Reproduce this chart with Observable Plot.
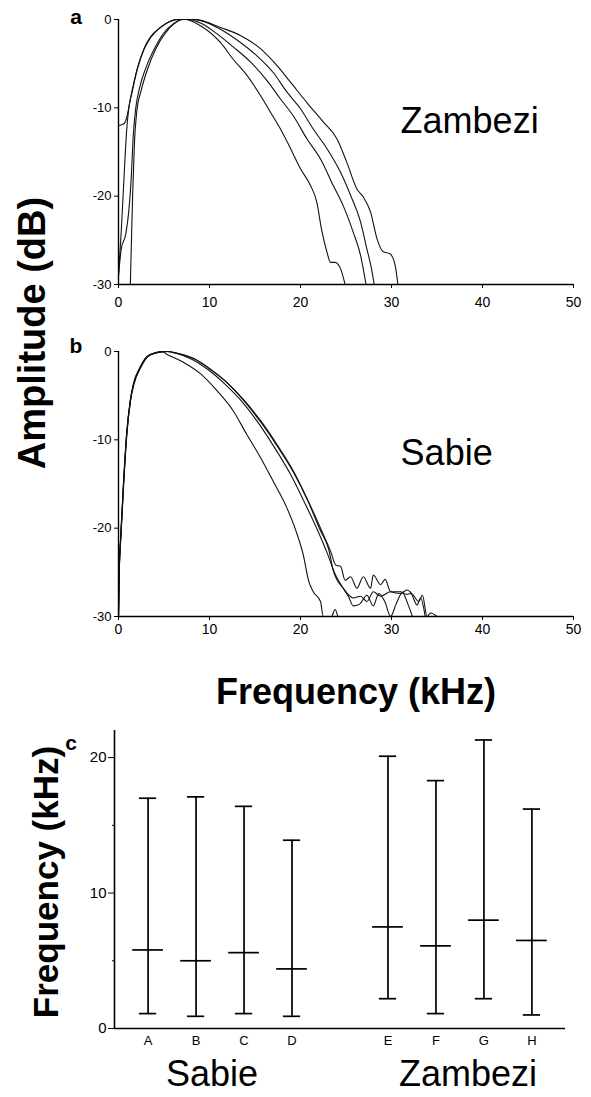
<!DOCTYPE html>
<html><head><meta charset="utf-8">
<script src="https://cdn.jsdelivr.net/npm/d3@7"></script>
<script src="https://cdn.jsdelivr.net/npm/@observablehq/plot@0.6"></script>
<style>
body{margin:0;background:#fff;}
#root{position:relative;width:591px;height:1097px;overflow:hidden;font-family:"Liberation Sans",Arial,sans-serif;color:#000;}
.panel{position:absolute;left:0;}
.t{position:absolute;white-space:nowrap;line-height:1;}
.b{font-weight:bold;}
</style></head><body><div id="root"></div>
<script>
// ---- Panel a: Zambezi spectra, [frequency kHz, amplitude dB]
const zambezi1 = [[0,-12],[0.6,-11.8],[0.95,-10.9],[1.3,-9],[1.7,-7.1],[2.05,-5.6],[2.8,-3.3],[3.5,-2],[4.6,-0.9],[5.7,-0.2],[6.4,0],[8,0],[9,-0.1],[11.2,-0.9],[13.4,-1.8],[15.6,-3.3],[17.4,-5.2],[18.9,-7.1],[20.7,-9.4],[22.5,-11.6],[24,-13.5],[25.1,-16.2],[26.2,-19.2],[26.9,-20.1],[27.7,-21.8],[28.4,-24.8],[29.1,-26.3],[29.8,-26.5],[30.4,-27.8],[30.7,-30]];
const zambezi2 = [[0,-29],[0.3,-24],[0.6,-18],[0.9,-12.5],[1.1,-10.3],[1.5,-8.2],[2.05,-5.7],[2.8,-3.4],[3.5,-2.1],[4.6,-0.9],[5.7,-0.2],[6.5,0],[8.5,0],[9,-0.1],[11.2,-1.1],[13.4,-2.6],[15.2,-4.1],[17,-6],[18.5,-8.2],[20,-10.1],[21.4,-12.4],[22.9,-14.6],[24.4,-17.3],[25.5,-19.9],[26.6,-22.9],[27.3,-26],[27.8,-28.2],[28.1,-30]];
const zambezi3 = [[0,-29],[0.3,-26],[0.8,-24.3],[1.1,-22],[1.4,-18],[1.6,-13.5],[1.9,-10],[2.3,-7.8],[3,-5.5],[4,-3.2],[5,-1.5],[6,-0.5],[7,0],[7.5,0],[9,-0.4],[10.8,-1.6],[12.6,-3.1],[14.5,-4.8],[16.3,-6.9],[17.8,-9],[19.2,-10.9],[20.7,-13.5],[22.2,-15.8],[23.6,-18.8],[24.7,-21.1],[25.8,-24.1],[26.6,-26.7],[27.2,-30]];
const zambezi4 = [[1.3,-30],[1.4,-26],[1.55,-20],[1.75,-14],[2,-10.5],[2.5,-8],[3.2,-5.6],[4.1,-3.3],[5.1,-1.6],[6.1,-0.5],[7.1,0],[7.3,0],[9,-0.7],[11.2,-2.6],[12.6,-4.5],[14.1,-6.3],[15.6,-8.6],[16.7,-10.5],[17.8,-12.4],[18.9,-14.6],[20,-16.9],[21.1,-18.8],[21.8,-20.7],[22.3,-23.7],[22.9,-26.3],[23.3,-27.5],[23.8,-27.5],[24.4,-28.2],[24.9,-30]];

// ---- Panel b: Sabie spectra
const sabie1 = [[0,-30],[0.07,-25.3],[0.26,-20.7],[0.55,-15],[0.9,-9.4],[1.3,-5.6],[1.65,-3.7],[2.4,-1.8],[3.1,-0.6],[3.85,-0.2],[4.8,0],[5.3,-0.3],[7.1,-1.2],[9,-2.5],[10.8,-4.4],[12.6,-6.7],[14.1,-9.4],[15.6,-12],[17,-14.7],[18.5,-17.7],[19.5,-20.3],[20.3,-23],[20.9,-26],[21.4,-27.2],[22.2,-28.3],[22.5,-30],[23.4,-30],[23.8,-29.2],[24.1,-30]];
const sabie2 = [[0,-30],[0.08,-25.3],[0.28,-20.7],[0.57,-15],[0.92,-9.4],[1.32,-5.6],[1.7,-3.7],[2.45,-1.8],[3.2,-0.6],[4,-0.2],[5.2,0],[6.4,-0.2],[8.2,-0.8],[10.1,-2],[11.9,-3.5],[13.7,-5.4],[15.6,-7.8],[17.4,-10.5],[19.2,-13.5],[20.7,-16.6],[22.2,-20],[23.3,-22.6],[23.9,-24.2],[24.4,-24.3],[24.9,-25.9],[25.5,-25.5],[26.2,-26.8],[26.9,-25.5],[27.7,-26.8],[28,-25.3],[28.8,-26.4],[29.3,-25.8],[29.9,-27.2],[31,-27.4],[31.7,-27],[32.4,-27.6],[33,-28.3],[33.4,-27.6],[33.9,-30],[34.3,-29.6],[35,-30]];
const sabie3 = [[0,-30],[0.06,-25.3],[0.25,-20.7],[0.54,-15],[0.88,-9.4],[1.28,-5.6],[1.63,-3.7],[2.35,-1.8],[3.1,-0.6],[3.9,-0.2],[5.4,0],[6.5,-0.2],[8.3,-0.8],[10.2,-2.1],[12,-3.6],[13.8,-5.6],[15.7,-8.1],[17.5,-10.8],[19.3,-13.8],[20.8,-16.9],[22.2,-20.3],[23.1,-22.4],[23.6,-24.8],[24.7,-26.8],[25.8,-27.9],[26.6,-27.7],[27.3,-28.3],[28,-27.2],[28.8,-27.7],[29.9,-27.2],[31,-27.2],[31.7,-27.5],[32.1,-27.4],[32.8,-28.7],[33.2,-27.9],[33.7,-30]];
const sabie4 = [[0,-30],[0.07,-25.3],[0.27,-20.7],[0.56,-15],[0.9,-9.4],[1.3,-5.6],[1.67,-3.7],[2.4,-1.8],[3.15,-0.6],[3.95,-0.2],[5.3,0],[6.3,-0.2],[8.1,-0.9],[9.9,-2.1],[11.7,-3.7],[13.5,-5.6],[15.3,-8],[17.1,-10.8],[18.9,-13.9],[20.4,-17],[21.9,-20.3],[23,-23],[23.8,-25.2],[24.5,-26.5],[25.3,-27.8],[25.8,-28.8],[26.5,-28.6],[27.3,-27.6],[28,-28.8],[28.6,-27.4],[29.3,-28.4],[29.9,-30],[30.5,-28.6],[31.2,-27.3],[31.8,-28.6],[32.3,-30]];

const freqTicks = [0, 10, 20, 30, 40, 50];
const dbTicks = [-30, -20, -10, 0];

// ---- Panel c: frequency ranges
const categories = ["A", "B", "C", "D", "E", "F", "G", "H"];
const rivers = ["Sabie", "Sabie", "Sabie", "Sabie", "Zambezi", "Zambezi", "Zambezi", "Zambezi"];
const highs = [17.0, 17.1, 16.4, 13.9, 20.1, 18.3, 21.3, 16.2];
const medians = [5.8, 5.0, 5.6, 4.4, 7.5, 6.1, 8.0, 6.5];
const lows = [1.1, 0.9, 1.1, 0.9, 2.2, 1.1, 2.2, 1.0];
const khzTicks = [0, 10, 20];
const khzMinor = [5, 15];

const FONT = "Liberation Sans, Arial, Helvetica, sans-serif";
const root = document.getElementById("root");

function rows(curves) {
  return curves.flatMap((c, i) => c.map(([f, db]) => ({f, db, id: i})));
}

function spectrum(curves, label, pad) {
  return Plot.plot({
    width: 591, height: 310,
    marginLeft: 118, marginRight: 18, marginTop: 19, marginBottom: 26,
    style: {fontFamily: FONT, background: "transparent", color: "#000", overflow: "visible"},
    x: {domain: [0, 50]},
    y: {domain: [-30, 0]},
    marks: [
      Plot.line(rows(curves), {x: "f", y: "db", z: "id", stroke: "#111", strokeWidth: 1.1, curve: "monotone-x", clip: true}),
      Plot.ruleX([0], {stroke: "#000", strokeWidth: 1.4}),
      Plot.ruleY([-30], {stroke: "#000", strokeWidth: 1.4}),
      Plot.axisX({ticks: freqTicks, tickSize: 4, tickPadding: pad, fontSize: 14, label: null, tickFormat: d => String(d)}),
      Plot.axisY({ticks: dbTicks, tickSize: 4, tickPadding: 3, fontSize: 13, label: null, tickFormat: d => String(d)}),
      Plot.text([label], {x: 31, y: -10, text: d => d, textAnchor: "start", lineAnchor: "top", fontSize: 36})
    ]
  });
}

function place(el, top) {
  const d = document.createElement("div");
  d.className = "panel";
  d.style.top = top + "px";
  d.appendChild(el);
  root.appendChild(d);
}

place(spectrum([zambezi1, zambezi2, zambezi3, zambezi4], "Zambezi", 9), 0);
place(spectrum([sabie1, sabie2, sabie3, sabie4], "Sabie", 4), 332);

const bars = categories.map((c, i) => ({
  cat: c, river: rivers[i],
  pos: i + 1 + (rivers[i] === "Zambezi" ? 1 : 0),
  high: highs[i], median: medians[i], low: lows[i]
}));
const groups = d3.groups(bars, d => d.river).map(([name, g]) => ({name, pos: d3.mean(g, d => d.pos)}));
const capW = 0.18, medW = 0.32;

const pc = Plot.plot({
  width: 591, height: 397,
  marginLeft: 114, marginRight: 26, marginTop: 30, marginBottom: 69,
  style: {fontFamily: FONT, background: "transparent", color: "#000", overflow: "visible"},
  x: {domain: [0.3, 9.7]},
  y: {domain: [0, 22]},
  marks: [
    Plot.ruleX(bars, {x: "pos", y1: "low", y2: "high", stroke: "#000", strokeWidth: 1.7}),
    Plot.ruleY(bars, {y: "high", x1: d => d.pos - capW, x2: d => d.pos + capW, stroke: "#000", strokeWidth: 1.7}),
    Plot.ruleY(bars, {y: "low", x1: d => d.pos - capW, x2: d => d.pos + capW, stroke: "#000", strokeWidth: 1.7}),
    Plot.ruleY(bars, {y: "median", x1: d => d.pos - medW, x2: d => d.pos + medW, stroke: "#000", strokeWidth: 1.7}),
    Plot.ruleX([0.3], {stroke: "#000", strokeWidth: 1.6}),
    Plot.ruleY([0], {stroke: "#000", strokeWidth: 1.6}),
    Plot.axisY({ticks: khzTicks, tickSize: 6, tickPadding: 2, fontSize: 15, label: null, tickFormat: d => String(d)}),
    Plot.axisY({ticks: khzMinor, tickSize: 2, text: null, label: null}),
    Plot.axisX({ticks: bars.map(d => d.pos), tickSize: 0, tickPadding: 7, fontSize: 13, label: null,
      tickFormat: p => (bars.find(d => d.pos === p) || {}).cat}),
    Plot.text(groups.filter(g => g.name === "Sabie"), {x: "pos", y: 0, text: "name", dx: -8, dy: 46, lineAnchor: "middle", fontSize: 36}),
    Plot.text(groups.filter(g => g.name === "Zambezi"), {x: "pos", y: 0, text: "name", dx: 8, dy: 46, lineAnchor: "middle", fontSize: 36})
  ]
});
place(pc, 700);

function label(txt, opts) {
  const d = document.createElement("div");
  d.className = "t" + (opts.bold ? " b" : "");
  d.textContent = txt;
  d.style.fontSize = opts.size + "px";
  d.style.left = opts.x + "px";
  d.style.top = opts.y + "px";
  d.style.transform = "translate(-50%,-50%)" + (opts.rot ? " rotate(-90deg)" : "");
  root.appendChild(d);
}
label("a", {x: 76, y: 16, size: 21, bold: true});
label("b", {x: 76, y: 345, size: 21, bold: true});
label("c", {x: 71, y: 742, size: 21, bold: true});
label("Amplitude (dB)", {x: 32, y: 333, size: 38, bold: true, rot: true});
label("Frequency (kHz)", {x: 356, y: 692, size: 36, bold: true});
label("Frequency (kHz)", {x: 45, y: 882, size: 35, bold: true, rot: true});
</script>
</body></html>
